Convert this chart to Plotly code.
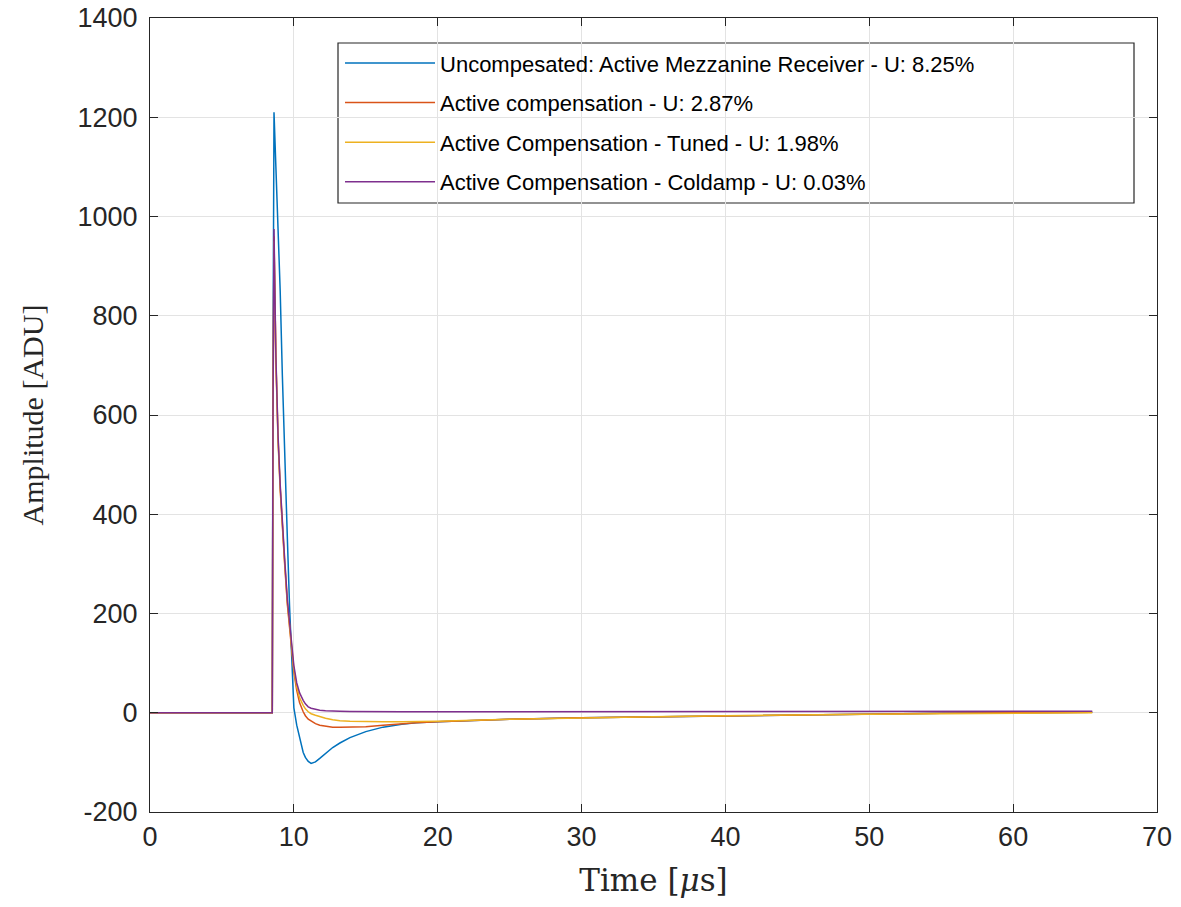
import plotly.graph_objects as go

# Time axis (µs)
time_us = [0, 8.5, 8.55, 8.62, 8.75, 8.9, 9.05, 9.2, 9.36, 9.55, 9.7, 9.82, 10.0, 10.2, 10.4,
           10.65, 10.8, 11.0, 11.2, 11.5, 11.8, 12.2, 12.7, 13.2, 13.9, 15.0, 16.2, 17.5, 18.5,
           20, 25, 30, 35, 40, 45, 50, 55, 60, 65.5]

uncompensated = [0, 0, 700, 1210, 1100, 975, 850, 680, 510, 350, 215, 135, 10, -25, -52,
                 -80, -90, -98, -102, -99, -92, -82, -70, -61, -50, -38, -29, -23, -20,
                 -18, -13, -10, -8, -6, -4, -3, -1, 0, 1]

active_comp = [0, 0, 600, 960, 710, 550, 450, 370, 300, 218, 170, 135, 82, 45, 20,
               2, -6, -13, -17, -22, -25, -27, -29, -29, -29, -28, -25, -22, -20,
               -18, -13, -10, -8, -6, -4, -3, -1, 0, 1]

active_tuned = [0, 0, 600, 950, 715, 555, 455, 375, 305, 222, 175, 140, 88, 52, 30,
                15, 8, 2, -2, -5, -8, -11, -14, -16, -17, -18, -18, -18, -18,
                -17, -13, -10, -8, -6, -4, -3, -2, -1, 0]

active_coldamp = [0, 0, 600, 975, 720, 560, 460, 380, 310, 227, 180, 147, 95, 60, 40,
                  25, 18, 12, 9, 7, 5, 4, 3, 3, 2.5, 2, 2, 2, 2,
                  2, 2, 2, 2, 2, 2, 2, 2, 2.5, 3]

series_names = [
    "Uncompesated: Active Mezzanine Receiver - U: 8.25%",
    "Active compensation - U: 2.87%",
    "Active Compensation - Tuned - U: 1.98%",
    "Active Compensation - Coldamp - U: 0.03%",
]
series_values = [uncompensated, active_comp, active_tuned, active_coldamp]
colors = ["#0072BD", "#D95319", "#EDB120", "#7E2F8E"]

x_ticks = [0, 10, 20, 30, 40, 50, 60, 70]
y_ticks = [-200, 0, 200, 400, 600, 800, 1000, 1200, 1400]
y_ticktext = ["-200", "0", "200", "400", "600", "800", "1000", "1200", "1400"]

fig = go.Figure()
for i, (name, vals, c) in enumerate(zip(series_names, series_values, colors)):
    fig.add_trace(go.Scatter(x=time_us, y=vals, mode="lines", name=name,
                             legendgroup=f"g{i}",
                             line=dict(color=c, width=1.5)))

axis_common = dict(
    showline=True, linecolor="#262626", linewidth=1.2, mirror="ticks",
    ticks="inside", ticklen=8, tickcolor="#262626",
    showgrid=True, gridcolor="#e3e3e3", gridwidth=1,
    zeroline=False, automargin=False,
    tickfont=dict(family="Liberation Sans, Arial, sans-serif", size=27, color="#262626"),
)

# legend frame (MATLAB draws it wider than the text)
x_l, x_r = (338 - 150) / 1007, (1134 - 150) / 1007
y_t, y_b = (812 - 43) / 794, (812 - 203) / 794
fig.add_shape(type="rect", xref="paper", yref="paper", x0=x_l, x1=x_r, y0=y_b, y1=y_t,
              fillcolor="white", line=dict(color="#262626", width=1.2), layer="between")

fig.update_layout(
    width=1181, height=907,
    margin=dict(l=150, r=24, t=18, b=95),
    paper_bgcolor="white", plot_bgcolor="white",
    xaxis=dict(range=[0, 70], tickvals=x_ticks, ticklabelstandoff=0,
               title=dict(text="Time [<i>μ</i>s]", standoff=18,
                          font=dict(family="DejaVu Serif, serif", size=31, color="#262626")),
               **axis_common),
    yaxis=dict(range=[-200, 1400], tickvals=y_ticks, ticktext=y_ticktext,
               ticklabelstandoff=6,
               title=dict(text="Amplitude [ADU]", standoff=24,
                          font=dict(family="Liberation Serif, serif", size=30, color="#262626")),
               **axis_common),
    legend=dict(x=x_l + 0.002, y=y_t + 0.001, xanchor="left", yanchor="top",
                bgcolor="rgba(0,0,0,0)", borderwidth=0,
                font=dict(family="Liberation Sans, Arial, sans-serif", size=22, color="#000000"),
                itemwidth=90, tracegroupgap=8, traceorder="grouped"),
    showlegend=True,
)

fig.write_html("out.html")
